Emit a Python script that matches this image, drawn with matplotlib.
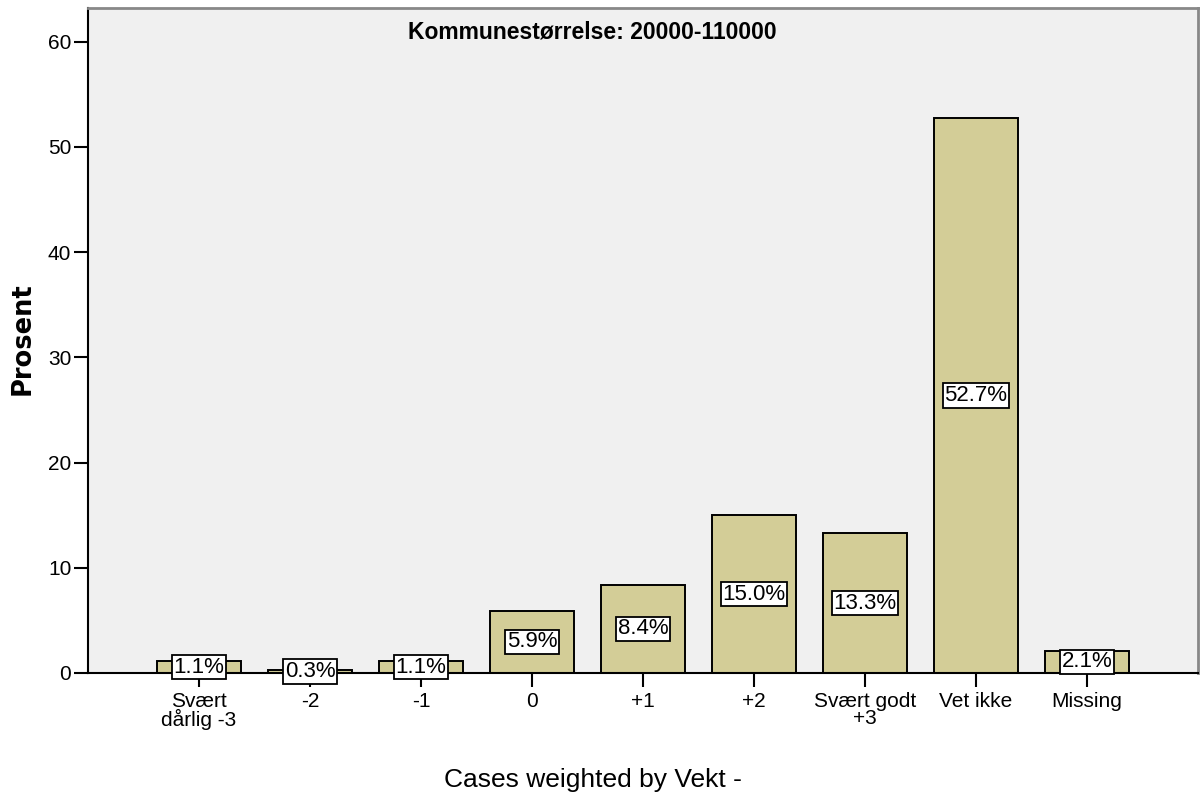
import matplotlib.pyplot as plt

plt.rcParams['font.family'] = ['Liberation Sans', 'DejaVu Sans']

# data
categories = ['Svært\ndårlig -3', '-2', '-1', '0', '+1', '+2', 'Svært godt\n+3', 'Vet ikke', 'Missing']
prosent = [1.1, 0.3, 1.1, 5.9, 8.4, 15.0, 13.3, 52.7, 2.1]
yticks = [0, 10, 20, 30, 40, 50, 60]


def main():
    fig = plt.figure(figsize=(12, 7.96), dpi=100)
    ax = fig.add_axes([88 / 1200, 123 / 796, 1110 / 1200, 665 / 796])
    ax.set_facecolor('#f0f0f0')

    x = list(range(len(categories)))
    ax.bar(x, prosent, width=0.757, color='#d3cd97', edgecolor='black', linewidth=1.4, zorder=2)

    # verdietiketter midt i stolpene
    for xi, v in zip(x, prosent):
        ax.text(xi, v / 2, f'{v:.1f}%', ha='center', va='center', fontsize=16, zorder=3,
                bbox=dict(boxstyle='square,pad=0.08', facecolor='white', edgecolor='black', linewidth=1.3))

    ax.set_xlim(-1, 9)
    ax.set_ylim(0, 63.2)
    ax.set_xticks(x)
    ax.set_xticklabels(categories, fontsize=15, linespacing=0.85)
    ax.set_yticks(yticks)
    ax.set_yticklabels([str(t) for t in yticks], fontsize=15)
    ax.tick_params(axis='y', direction='out', length=10, width=1.5, pad=2)
    ax.tick_params(axis='x', direction='out', length=10, width=1.5, pad=4)

    for s in ['left', 'bottom']:
        ax.spines[s].set_color('black')
        ax.spines[s].set_linewidth(1.5)
    for s in ['top', 'right']:
        ax.spines[s].set_color('#888888')
        ax.spines[s].set_linewidth(2)

    fig.text(23 / 1200, 1 - 339 / 796, 'Prosent', rotation=90, ha='center', va='center',
             fontsize=18.5, fontweight='bold', family=['DejaVu Sans'])
    fig.text(592 / 1200, 1 - 32 / 796, 'Kommunestørrelse: 20000-110000', ha='center', va='center',
             fontsize=16.5, fontweight='bold')
    fig.text(593 / 1200, 1 - 780 / 796, 'Cases weighted by Vekt -', ha='center', va='center', fontsize=19)

    plt.savefig('out.png')
    plt.close()


if __name__ == "__main__":
    main()
